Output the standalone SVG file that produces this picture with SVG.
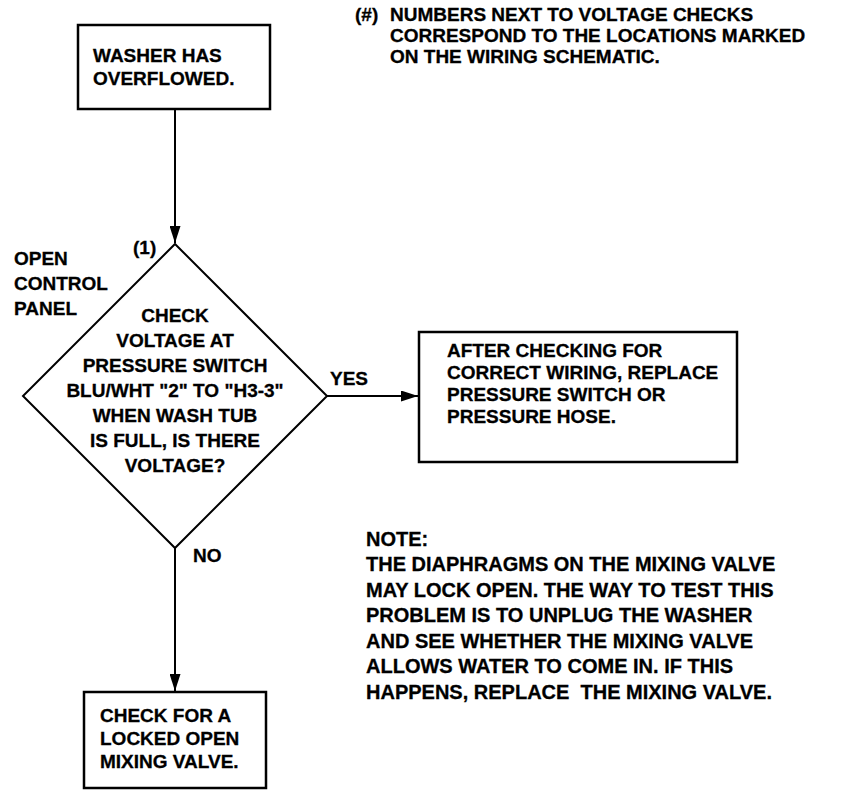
<svg xmlns="http://www.w3.org/2000/svg" width="841" height="791" viewBox="0 0 841 791">
<defs>
<marker id="arr" markerWidth="17" markerHeight="11" refX="17" refY="5.5" orient="auto" markerUnits="userSpaceOnUse">
<path d="M0,0 L17,5.5 L0,11 Z" fill="#000"/>
</marker>
<style>
.t{font-family:"Liberation Sans",Arial,sans-serif;font-weight:bold;font-size:19px;fill:#000;stroke:#000;stroke-width:0.3}
.n{font-size:20px}
.c{text-anchor:middle}
.box{fill:#fff;stroke:#000;stroke-width:2.5}
.ln{stroke:#000;stroke-width:2;fill:none}
</style>
</defs>
<rect width="841" height="791" fill="#fff"/>
<g id="connectors">
<line class="ln" x1="175" y1="109" x2="175" y2="243" marker-end="url(#arr)"/>
<line class="ln" x1="327" y1="396" x2="418" y2="396" marker-end="url(#arr)"/>
<line class="ln" x1="175" y1="548" x2="175" y2="691" marker-end="url(#arr)"/>
<text class="t" x="330" y="385">YES</text>
<text class="t" x="193" y="562">NO</text>
</g>
<g id="note-top">
<text class="t" x="355" y="21">(#)</text>
<text class="t" x="390" y="21">NUMBERS NEXT TO VOLTAGE CHECKS</text>
<text class="t" x="390" y="42">CORRESPOND TO THE LOCATIONS MARKED</text>
<text class="t" x="390" y="63">ON THE WIRING SCHEMATIC.</text>
</g>
<g id="start">
<rect class="box" x="78" y="25" width="192" height="84"/>
<text class="t" x="93" y="62">WASHER HAS</text>
<text class="t" x="93" y="85">OVERFLOWED.</text>
</g>
<g id="decision">
<polygon class="box" points="175,244 327,396 175,548 23,396" style="stroke-width:2"/>
<text class="t" x="133" y="254">(1)</text>
<text class="t" x="14" y="265">OPEN</text>
<text class="t" x="14" y="290">CONTROL</text>
<text class="t" x="14" y="315">PANEL</text>
<text class="t c" x="175" y="322">CHECK</text>
<text class="t c" x="175" y="347">VOLTAGE AT</text>
<text class="t c" x="175" y="372">PRESSURE SWITCH</text>
<text class="t c" x="175" y="397">BLU/WHT "2" TO "H3-3"</text>
<text class="t c" x="175" y="422">WHEN WASH TUB</text>
<text class="t c" x="175" y="447">IS FULL, IS THERE</text>
<text class="t c" x="175" y="472">VOLTAGE?</text>
</g>
<g id="replace-switch">
<rect class="box" x="419" y="332" width="318" height="130"/>
<text class="t" x="447" y="357">AFTER CHECKING FOR</text>
<text class="t" x="447" y="379">CORRECT WIRING, REPLACE</text>
<text class="t" x="447" y="401">PRESSURE SWITCH OR</text>
<text class="t" x="447" y="423">PRESSURE HOSE.</text>
</g>
<g id="mixing-valve">
<rect class="box" x="84" y="692" width="182" height="96"/>
<text class="t" x="100" y="722">CHECK FOR A</text>
<text class="t" x="100" y="745">LOCKED OPEN</text>
<text class="t" x="100" y="768">MIXING VALVE.</text>
</g>
<g id="note">
<text class="t n" x="366" y="546">NOTE:</text>
<text class="t n" x="366" y="571">THE DIAPHRAGMS ON THE MIXING VALVE</text>
<text class="t n" x="366" y="597">MAY LOCK OPEN. THE WAY TO TEST THIS</text>
<text class="t n" x="366" y="622">PROBLEM IS TO UNPLUG THE WASHER</text>
<text class="t n" x="366" y="648">AND SEE WHETHER THE MIXING VALVE</text>
<text class="t n" x="366" y="673">ALLOWS WATER TO COME IN. IF THIS</text>
<text class="t n" x="366" y="699" xml:space="preserve">HAPPENS, REPLACE  THE MIXING VALVE.</text>
</g>
</svg>
